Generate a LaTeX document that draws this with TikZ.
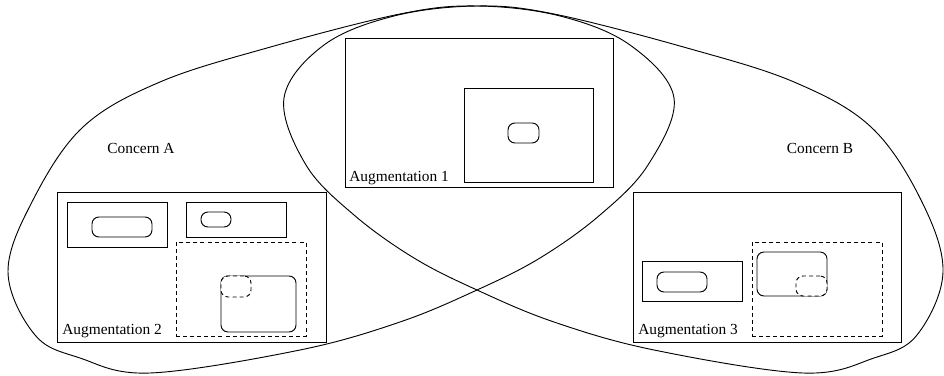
\documentclass[tikz,border=0pt]{standalone}
\usepackage{fontspec}
\setmainfont{Liberation Serif}
\usetikzlibrary{fit, positioning}
\tikzset{
  augbox/.style={
    draw, inner sep=0pt, line width=0.6pt
  },
  pillbox/.style={
    draw, rounded corners=4.5pt, inner sep=0pt, line width=0.6pt
  },
  dashbox/.style={
    draw, dash pattern=on 2.6pt off 2pt, inner sep=0pt, line width=0.6pt
  },
  dashpill/.style={
    pillbox, fill=white, dash pattern=on 2.6pt off 2pt
  },
  concernline/.style={
    line width=0.6pt
  },
  auglabel/.style={
    anchor=base west, inner sep=0pt, font=\normalsize
  },
}

\begin{document}
\begin{tikzpicture}[x=0.65pt, y=-0.65pt]
  \fill[white] (0,0) rectangle (944,376);
  \useasboundingbox (0,0) rectangle (944,376);

  % === CONCERNS ===
  \draw[concernline] plot[smooth cycle, tension=0.6] coordinates {
    (477,290) (400,322) (300,350) (150,373) (80,358) (35,335) (8,272)
    (33,200) (83,127) (160,82) (267,48) (400,14) (477,6) (560,16)
    (630,45) (674,98) (648,165) (600,215) (540,258)};
  \draw[concernline] plot[smooth cycle, tension=0.6] coordinates {
    (477,290) (554,322) (654,350) (803,373) (874,358) (917,335) (943,272)
    (921,200) (871,127) (794,82) (687,48) (554,14) (477,6) (394,16)
    (324,45) (284,98) (306,165) (354,215) (414,258)};

  \node (concernA) at (141,148) {Concern A};
  \node (concernB) at (820,148) {Concern B};

  % === Augmentation 1 (shared) ===
  \node[augbox, fit={(345,38) (613,187)}] (aug1) {};
  \node[augbox, fit={(464,88) (593,182)}] (aug1in) {};
  \node[pillbox, fit={(508,123) (539,143)}] (aug1pill) {};
  \node[auglabel] (aug1label) at (349,182) {Augmentation 1};

  % === Augmentation 2 (concern A) ===
  \node[augbox, fit={(57,192) (326,342)}] (aug2) {};
  \node[augbox, fit={(67,202) (167,247)}] (aug2a) {};
  \node[pillbox, fit={(92,217) (152,237)}] (aug2apill) {};
  \node[augbox, fit={(186,202) (286,237)}] (aug2b) {};
  \node[pillbox, fit={(201,212) (231,227)}] (aug2bpill) {};
  \node[dashbox, fit={(176,242) (306,336)}] (aug2dash) {};
  \node[pillbox, fit={(221,276) (296,332)}] (aug2round) {};
  \node[dashpill, fit={(221,276) (251,297)}] (aug2hole) {};
  \node[auglabel] (aug2label) at (62,335) {Augmentation 2};

  % === Augmentation 3 (concern B) ===
  \node[augbox, fit={(633,192) (901,342)}] (aug3) {};
  \node[augbox, fit={(642,261) (742,301)}] (aug3a) {};
  \node[pillbox, fit={(657,272) (707,292)}] (aug3apill) {};
  \node[dashbox, fit={(752,242) (882,336)}] (aug3dash) {};
  \node[pillbox, fit={(757,252) (827,296)}] (aug3round) {};
  \node[dashpill, fit={(796,276) (827,296)}] (aug3hole) {};
  \node[auglabel] (aug3label) at (638,335) {Augmentation 3};

\end{tikzpicture}
\end{document}
